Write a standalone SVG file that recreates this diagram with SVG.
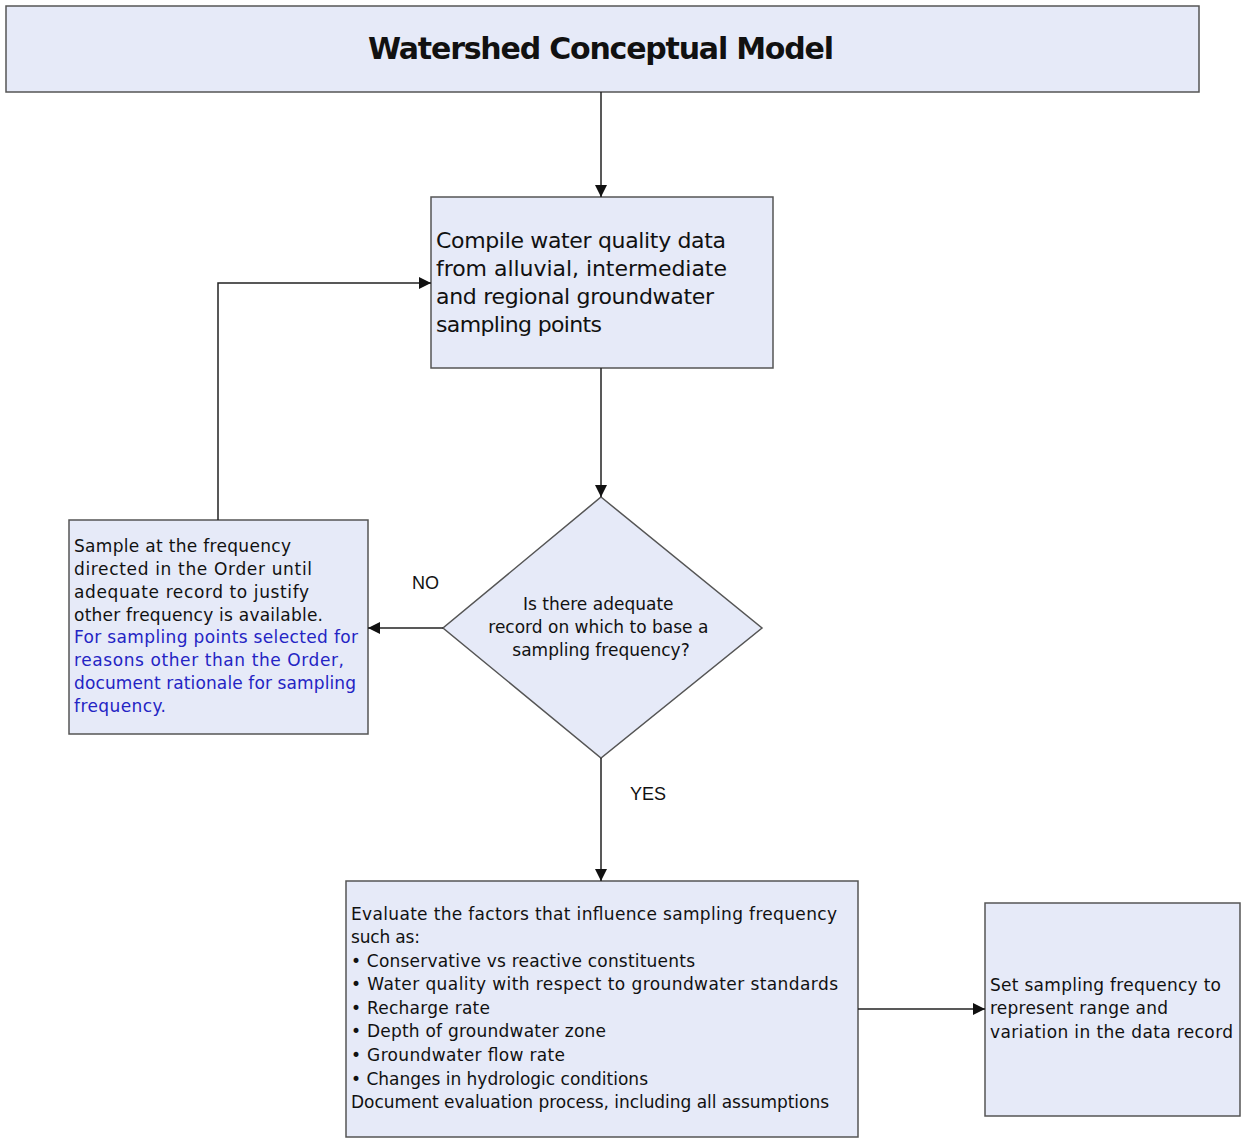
<svg xmlns="http://www.w3.org/2000/svg" width="1241" height="1138" viewBox="0 0 1241 1138">
<defs>
<marker id="ah" viewBox="0 0 10 10" refX="10" refY="5" markerWidth="12" markerHeight="12" markerUnits="userSpaceOnUse" orient="auto"><path d="M0,0 L10,5 L0,10 z" fill="#111"/></marker>
<style>
.box{fill:#e6eaf8;stroke:#555;stroke-width:1.5}
.t{font-family:"DejaVu Sans","Liberation Sans",sans-serif;fill:#111}
.blue{fill:#2424c4}
.lbl{font-family:"Liberation Sans",Arial,sans-serif;font-size:18px;fill:#111}
.conn{stroke:#222;stroke-width:1.5;fill:none;marker-end:url(#ah)}
</style>
</defs>
<rect width="1241" height="1138" fill="#fff"/>
<g id="title">
<rect class="box" x="6" y="6" width="1193" height="86"/>
<text class="t" x="601" y="59" text-anchor="middle" font-size="30" font-weight="bold" textLength="466">Watershed Conceptual Model</text>
</g>
<g id="compile">
<rect class="box" x="431" y="197" width="342" height="171"/>
<text class="t" font-size="22">
<tspan x="436" y="248" textLength="290">Compile water quality data</tspan>
<tspan x="436" y="276" textLength="291">from alluvial, intermediate</tspan>
<tspan x="436" y="304" textLength="278">and regional groundwater</tspan>
<tspan x="436" y="332" textLength="166">sampling points</tspan>
</text>
</g>
<g id="decision">
<polygon class="box" points="601,497 762,628 601,758 443,628"/>
<text class="t" font-size="17" text-anchor="middle">
<tspan x="601" y="610">Is there adequate</tspan>
<tspan x="601" y="633">record on which to base a</tspan>
<tspan x="601" y="656">sampling frequency?</tspan>
</text>
</g>
<g id="sample">
<rect class="box" x="69" y="520" width="299" height="214"/>
<text class="t" font-size="17">
<tspan x="74" y="552" textLength="217">Sample at the frequency</tspan>
<tspan x="74" y="575" textLength="238">directed in the Order until</tspan>
<tspan x="74" y="598" textLength="235">adequate record to justify</tspan>
<tspan x="74" y="621" textLength="249">other frequency is available.</tspan>
<tspan class="blue" x="74" y="643" textLength="284">For sampling points selected for</tspan>
<tspan class="blue" x="74" y="666" textLength="270">reasons other than the Order,</tspan>
<tspan class="blue" x="74" y="689" textLength="282">document rationale for sampling</tspan>
<tspan class="blue" x="74" y="712" textLength="92">frequency.</tspan>
</text>
</g>
<g id="evaluate">
<rect class="box" x="346" y="881" width="512" height="256"/>
<text class="t" font-size="17">
<tspan x="351" y="920" textLength="486">Evaluate the factors that influence sampling frequency</tspan>
<tspan x="351" y="943" textLength="69">such as:</tspan>
<tspan x="351" y="967" textLength="344">• Conservative vs reactive constituents</tspan>
<tspan x="351" y="990" textLength="487">• Water quality with respect to groundwater standards</tspan>
<tspan x="351" y="1014" textLength="139">• Recharge rate</tspan>
<tspan x="351" y="1037" textLength="255">• Depth of groundwater zone</tspan>
<tspan x="351" y="1061" textLength="214">• Groundwater flow rate</tspan>
<tspan x="351" y="1085" textLength="297">• Changes in hydrologic conditions</tspan>
<tspan x="351" y="1108" textLength="478">Document evaluation process, including all assumptions</tspan>
</text>
</g>
<g id="setfreq">
<rect class="box" x="985" y="903" width="255" height="213"/>
<text class="t" font-size="17">
<tspan x="990" y="991" textLength="231">Set sampling frequency to</tspan>
<tspan x="990" y="1014" textLength="178">represent range and</tspan>
<tspan x="990" y="1038" textLength="243">variation in the data record</tspan>
</text>
</g>
<g id="connectors">
<line class="conn" x1="601" y1="92" x2="601" y2="197"/>
<line class="conn" x1="601" y1="368" x2="601" y2="497"/>
<line class="conn" x1="443" y1="628" x2="368" y2="628"/>
<polyline class="conn" points="218,520 218,283 431,283"/>
<line class="conn" x1="601" y1="758" x2="601" y2="881"/>
<line class="conn" x1="858" y1="1009" x2="985" y2="1009"/>
<text class="lbl" x="412" y="589">NO</text>
<text class="lbl" x="630" y="800">YES</text>
</g>
</svg>
